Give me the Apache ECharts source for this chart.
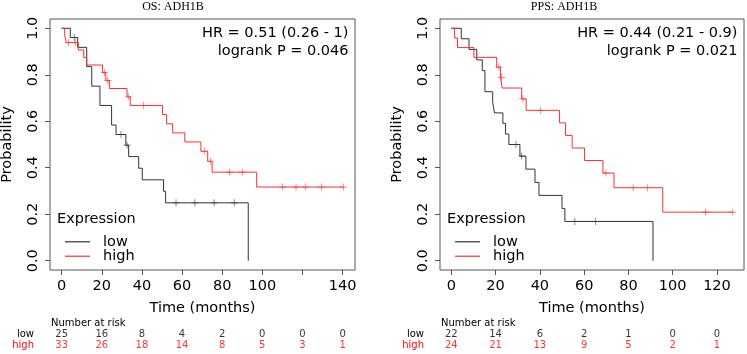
<!DOCTYPE html>
<html>
<head>
<meta charset="utf-8">
<script src="https://cdn.jsdelivr.net/npm/echarts@6/dist/echarts.min.js"></script>
<style>
  html, body { margin: 0; padding: 0; background: #fff; }
  #chart { width: 747px; height: 354px; }
</style>
</head>
<body>
<div id="chart"></div>
<script>
// Kaplan-Meier step data (time in months, survival)
const osLowT = [0, 4.3, 8, 12.5, 15, 19.1, 24.9, 27.1, 32, 33.4, 38.4, 40.2, 50.8, 51.8, 93];
const osLowS = [1, 0.96, 0.918, 0.835, 0.751, 0.668, 0.584, 0.543, 0.497, 0.448, 0.398, 0.348, 0.299, 0.249, 0];
const osLowCens = [6.3, 29.6, 32.6, 57, 66.4, 76, 86];

const osHighT = [0, 1.5, 2.3, 8.3, 11, 12.5, 20.4, 22, 23.8, 32.6, 34.2, 50.3, 52.3, 55.3, 61.4, 69.4, 72.8, 75, 97.2, 140.4];
const osHighS = [1, 0.97, 0.939, 0.907, 0.875, 0.842, 0.81, 0.776, 0.741, 0.705, 0.668, 0.629, 0.589, 0.55, 0.511, 0.471, 0.428, 0.381, 0.317, 0.317];
const osHighCens = [3.5, 6.8, 21.3, 23, 33.2, 40.9, 71.1, 74.3, 83.6, 90, 110.1, 116.8, 121.4, 129.5, 140.4];

const ppsLowT = [0, 4.5, 8, 11.5, 14, 15.2, 18.7, 19.5, 23.3, 24.5, 26, 31, 33.7, 37.8, 39.6, 50, 51.3, 91.1];
const ppsLowS = [1, 0.955, 0.909, 0.864, 0.818, 0.727, 0.682, 0.636, 0.591, 0.545, 0.5, 0.45, 0.394, 0.337, 0.281, 0.225, 0.169, 0];
const ppsLowCens = [29.2, 31.8, 55.8, 65.1];

const ppsHighT = [0, 1.5, 2.8, 10.2, 20.5, 22.2, 23, 31.8, 33.8, 48.9, 51.6, 54.6, 60.2, 68.5, 73.5, 95.5, 127.2];
const ppsHighS = [1, 0.958, 0.917, 0.875, 0.833, 0.789, 0.743, 0.696, 0.647, 0.593, 0.539, 0.485, 0.431, 0.377, 0.314, 0.209, 0.209];
const ppsHighCens = [21.5, 22.7, 32.3, 40.3, 69.8, 82.1, 88.5, 114.8, 127.2];

// number at risk tables
const osRiskTimes = [0, 20, 40, 60, 80, 100, 120, 140];
const osRiskLow = [25, 16, 8, 4, 2, 0, 0, 0];
const osRiskHigh = [33, 26, 18, 14, 8, 5, 3, 1];
const ppsRiskTimes = [0, 20, 40, 60, 80, 100, 120];
const ppsRiskLow = [22, 14, 6, 2, 1, 0, 0];
const ppsRiskHigh = [24, 21, 13, 9, 5, 2, 1];

// axis ticks and labels
const osTicks = [0, 20, 40, 60, 80, 100, 120, 140];
const osTickLabels = [0, 20, 40, 60, 80, 100, 140];
const ppsTicks = [0, 20, 40, 60, 80, 100, 120];
const ppsTickLabels = [0, 20, 40, 60, 80, 100, 120];
const probTicks = [0, 0.2, 0.4, 0.6, 0.8, 1.0];

const groups = ["low", "high"];
const lineColors = { low: "#333333", high: "#ff2e2e" };
const textColors = { low: "#000000", high: "#ff0000" };
const FONT = "DejaVu Sans";
const CROSS = "path://M0,6.3H6.3V0H7.7V6.3H14V7.7H7.7V14H6.3V7.7H0Z";

// survival at time t from a step curve
function survAt(T, S, t) {
  let s = S[0];
  for (let i = 0; i < T.length; i++) if (T[i] <= t) s = S[i];
  return s;
}

const panels = [
  {
    title: "OS: ADH1B", titleX: 173,
    hr: "HR = 0.51 (0.26 - 1)", p: "logrank P = 0.046",
    left: 50, width: 305, xMin: -5.8, xMax: 146.2,
    ticks: osTicks, tickLabels: osTickLabels,
    curves: {
      low: [osLowT, osLowS, osLowCens],
      high: [osHighT, osHighS, osHighCens],
    },
    risk: { times: osRiskTimes, low: osRiskLow, high: osRiskHigh },
  },
  {
    title: "PPS: ADH1B", titleX: 564,
    hr: "HR = 0.44 (0.21 - 0.9)", p: "logrank P = 0.021",
    left: 440, width: 304, xMin: -5.1, xMax: 132.2,
    ticks: ppsTicks, tickLabels: ppsTickLabels,
    curves: {
      low: [ppsLowT, ppsLowS, ppsLowCens],
      high: [ppsHighT, ppsHighS, ppsHighCens],
    },
    risk: { times: ppsRiskTimes, low: ppsRiskLow, high: ppsRiskHigh },
  },
];

const grid = [], xAxis = [], yAxis = [], series = [], legend = [], graphic = [];

panels.forEach((pn, k) => {
  const main = k * 2, tbl = k * 2 + 1;

  grid.push({
    left: pn.left, top: 19, width: pn.width, height: 251,
    show: true, borderColor: "#555", borderWidth: 1, backgroundColor: "transparent",
    containLabel: false, outerBoundsMode: "none",
  });
  grid.push({
    left: pn.left, top: 328.6, width: pn.width, height: 22.8,
    containLabel: false, outerBoundsMode: "none",
  });

  xAxis.push({
    type: "value", gridIndex: main, min: pn.xMin, max: pn.xMax,
    name: "Time (months)", nameLocation: "middle", nameGap: 31,
    nameTextStyle: { fontFamily: FONT, fontSize: 14.5, color: "#000" },
    axisLine: { show: false, onZero: false },
    splitLine: { show: false },
    axisTick: { show: true, length: 5, customValues: pn.ticks, lineStyle: { color: "#555" } },
    axisLabel: {
      customValues: pn.tickLabels, margin: 9,
      fontFamily: FONT, fontSize: 14.5, color: "#000",
    },
  });
  xAxis.push({
    type: "value", gridIndex: tbl, min: pn.xMin, max: pn.xMax,
    show: false,
  });

  yAxis.push({
    type: "value", gridIndex: main, min: -0.04, max: 1.04,
    name: "Probability", nameLocation: "middle", nameGap: 35,
    nameTextStyle: { fontFamily: FONT, fontSize: 14.5, color: "#000" },
    axisLine: { show: false, onZero: false },
    splitLine: { show: false },
    axisTick: { show: true, length: 5, customValues: probTicks, lineStyle: { color: "#555" } },
    axisLabel: {
      customValues: probTicks, rotate: 90, margin: 9,
      fontFamily: FONT, fontSize: 14.5, color: "#000",
      formatter: (v) => Number(v).toFixed(1),
    },
  });
  yAxis.push({
    type: "category", gridIndex: tbl, data: ["high", "low"],
    axisLine: { show: false, onZero: false }, axisTick: { show: false }, splitLine: { show: false },
    axisLabel: {
      interval: 0, margin: 16, fontFamily: FONT, fontSize: 10,
      color: (v) => textColors[v],
    },
  });

  groups.forEach((g) => {
    const [T, S, C] = pn.curves[g];
    series.push({
      name: g, type: "line", step: "end", xAxisIndex: main, yAxisIndex: main,
      data: T.map((t, i) => [t, S[i]]),
      symbol: "none", silent: true,
      lineStyle: { color: lineColors[g], width: 1 },
      itemStyle: { color: lineColors[g] },
    });
    series.push({
      name: g, type: "scatter", xAxisIndex: main, yAxisIndex: main,
      data: C.map((t) => [t, survAt(T, S, t)]),
      symbol: CROSS, symbolSize: 7, silent: true,
      itemStyle: { color: lineColors[g] },
    });
    series.push({
      name: g + " at risk", type: "scatter", xAxisIndex: tbl, yAxisIndex: tbl,
      data: pn.risk.times.map((t, i) => [t, g, pn.risk[g][i]]),
      symbolSize: 1, silent: true,
      itemStyle: { color: "transparent" },
      label: {
        show: true, position: "inside",
        formatter: (d) => String(d.value[2]),
        fontFamily: FONT, fontSize: 10, color: textColors[g],
      },
    });
  });

  legend.push({
    data: groups.map((g) => ({ name: g, icon: "rect", itemStyle: { color: lineColors[g] } })),
    orient: "vertical",
    left: pn.left + 15, top: 234.3, padding: 0,
    itemWidth: 25, itemHeight: 1.2, itemGap: -0.6,
    selectedMode: false,
    textStyle: { fontFamily: FONT, fontSize: 14.5, lineHeight: 14, color: "#000", padding: [0, 0, 0, 8] },
  });

  // titles and annotations
  graphic.push(
    { type: "text", x: pn.titleX, y: 7, style: { text: pn.title, font: "12px 'Liberation Serif'", fill: "#000", textAlign: "center", textVerticalAlign: "middle" } },
    { type: "text", x: pn.left + pn.width - 6.5, y: 33.3, style: { text: pn.hr, font: "14.5px 'DejaVu Sans'", fill: "#000", textAlign: "right", textVerticalAlign: "middle" } },
    { type: "text", x: pn.left + pn.width - 6.5, y: 51, style: { text: pn.p, font: "14.5px 'DejaVu Sans'", fill: "#000", textAlign: "right", textVerticalAlign: "middle" } },
    { type: "text", x: pn.left + 7, y: 219, style: { text: "Expression", font: "14.5px 'DejaVu Sans'", fill: "#000", textAlign: "left", textVerticalAlign: "middle" } },
    { type: "text", x: pn.left + 1, y: 323.3, style: { text: "Number at risk", font: "10px 'DejaVu Sans'", fill: "#000", textAlign: "left", textVerticalAlign: "middle" } }
  );
});

const chart = echarts.init(document.getElementById("chart"), null, { renderer: "canvas" });
chart.setOption({
  animation: false,
  backgroundColor: "#fff",
  grid, xAxis, yAxis, series, legend, graphic,
});
</script>
</body>
</html>
